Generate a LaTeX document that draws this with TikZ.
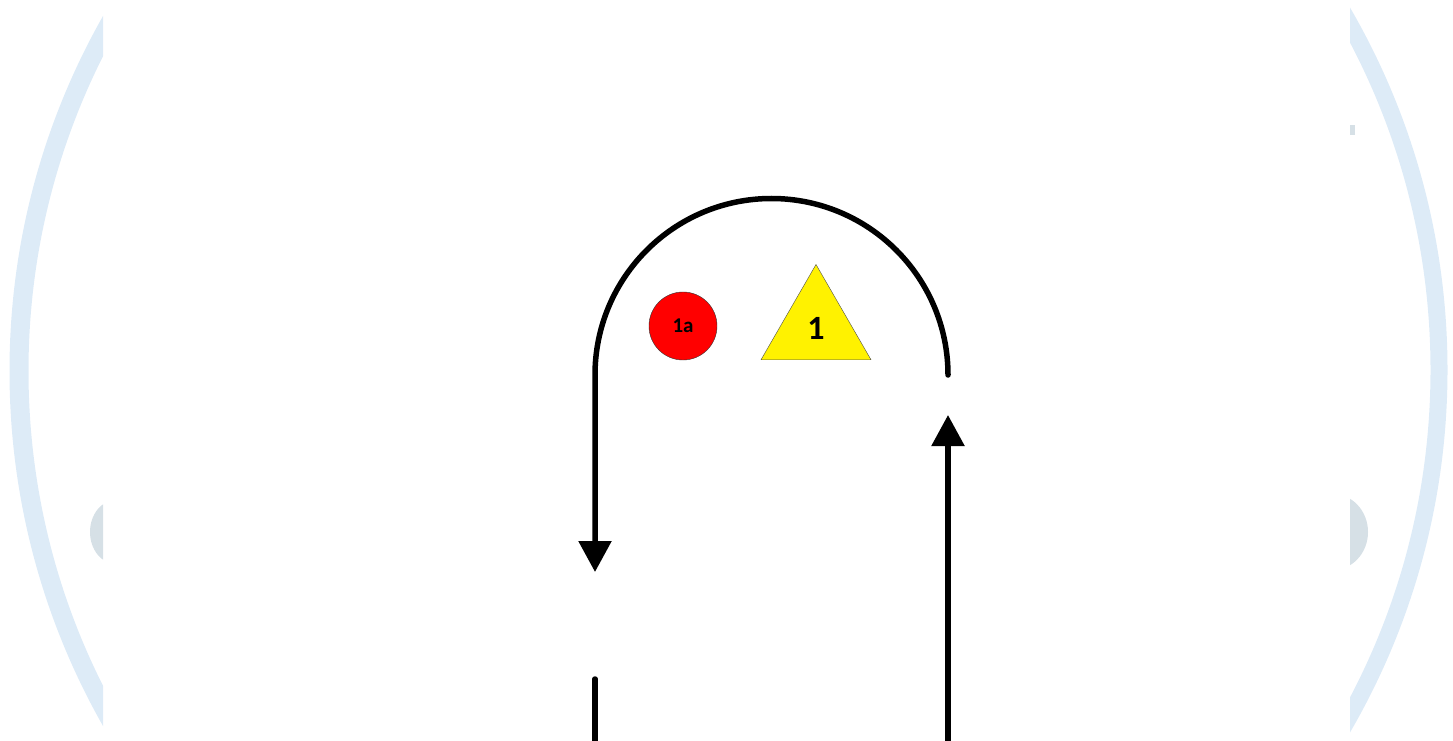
\documentclass[tikz,border=0pt]{standalone}
\usepackage{fontspec}
\setmainfont{Carlito}
\usetikzlibrary{arrows.meta,shapes.geometric}
\definecolor{fieldblue}{RGB}{221,235,247}
\definecolor{fieldgrey}{RGB}{214,224,230}

\begin{document}
\begin{tikzpicture}[x=1pt,y=1pt,
    track/.style={line width=5.5pt,line cap=round},
    runarrow/.style={-{Triangle[width=32pt,length=31pt]}},
    player/.style={circle,draw=black!80,fill=red,minimum size=68pt,inner sep=0pt,font=\bfseries\fontsize{21}{21}\selectfont},
    cone/.style={regular polygon,regular polygon sides=3,draw=black!70,fill=yellow,minimum size=127pt,inner sep=0pt,font=\bfseries\fontsize{34}{34}\selectfont}]
    \useasboundingbox (0,0) rectangle (1453,740);
    \begin{scope}
        \clip (0,0) rectangle (103,740);
        \draw[fieldblue,line width=19pt] (729,369) circle[radius=710];
        \fill[fieldgrey] (116,208) ellipse[x radius=26,y radius=32];
    \end{scope}
    \begin{scope}
        \clip (1350,0) rectangle (1453,740);
        \draw[fieldblue,line width=17pt] (726,370) circle[radius=713];
        \fill[fieldgrey] (1333,208) ellipse[x radius=35,y radius=38];
        \fill[fieldgrey] (1350,605) rectangle (1355,615);
    \end{scope}
    \node[player] (p1a) at (683,414) {1a};
    \node[cone] (c1) at (816,412) {1};
    \coordinate (arcR) at (948,365);
    \coordinate (downtip) at (595,168);
    \coordinate (uptip) at (948,325);
    \coordinate (rightfoot) at (948,-10);
    \coordinate (leftfoot) at (595,-10);
    \coordinate (leftstub) at (595,61);
    \draw[track,runarrow] (arcR) arc[start angle=0,end angle=180,radius=176.5] -- (downtip);
    \draw[track,runarrow] (rightfoot) -- (uptip);
    \draw[track] (leftfoot) -- (leftstub);
\end{tikzpicture}
\end{document}
